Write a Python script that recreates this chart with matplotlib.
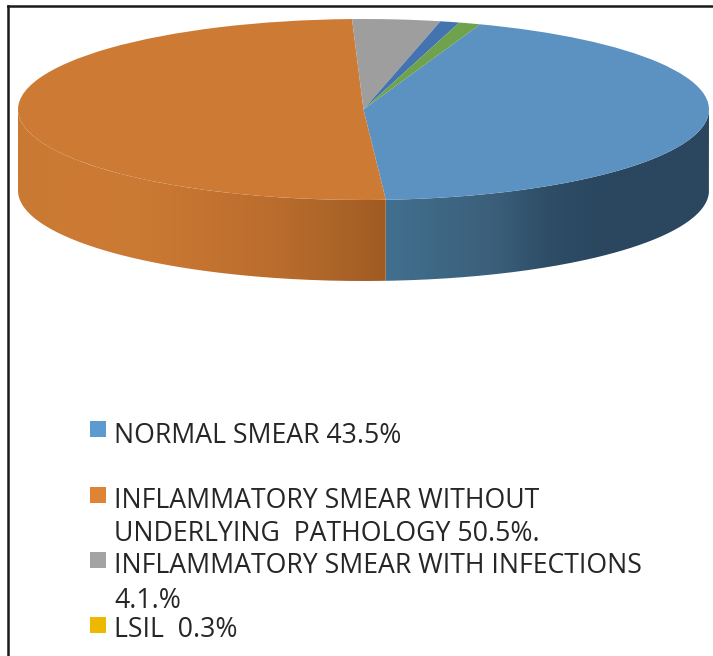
import matplotlib
matplotlib.use("Agg")
import matplotlib.pyplot as plt
import numpy as np
from matplotlib.colors import LinearSegmentedColormap
from matplotlib.lines import Line2D
from matplotlib.patches import PathPatch, Rectangle
from matplotlib.path import Path

# last two slices have no legend entry in the picture (legend is cut off)
# LSIL 0.3% is in the legend but no slice can be seen for it
valeurs = [43.5, 50.5, 4.1, 0.9, 1.0]
couleurs = ["#5B92C1", "#CD7B34", "#9E9E9E", "#4474B0", "#6FA24C"]
degrade_bleu = ["#41708F", "#3E6784", "#3B5F7B", "#2E4D66", "#2A475F", "#2A475F", "#2A475F"]
degrade_orange = ["#C97933", "#CD7B34", "#CB7A33", "#C47430", "#BC6E2E", "#AF6629", "#A05B23"]

legende_textes = [
    "NORMAL SMEAR 43.5%",
    "INFLAMMATORY SMEAR WITHOUT",
    "UNDERLYING  PATHOLOGY 50.5%.",
    "INFLAMMATORY SMEAR WITH INFECTIONS",
    "4.1.%",
    "LSIL  0.3%",
]
legende_y = [436, 501, 534, 566, 601, 630]
carres_y = [429, 495, 560, 625]
carres_couleurs = ["#5B9BD0", "#DF8434", "#A3A3A3", "#EDB800"]

W, H = 713, 656
cx, cy, rx, ry = 363.5, 109.5, 345.5, 90.5
profondeur = 81 / ry
debut = 70.3

fig = plt.figure(figsize=(W / 100, H / 100), dpi=100)
ax = fig.add_axes([0, 0, 1, 1])
ax.pie(valeurs, colors=couleurs, startangle=debut, counterclock=False, radius=1,
       wedgeprops={"linewidth": 0})
ax.set_aspect("auto")
xlim = (-cx / rx, (W - cx) / rx)
ylim = ((cy - H) / ry, cy / ry)


def mur(a0, a1, stops):
    # side wall of the disc between two angles, a gradient clipped to its outline
    angles = np.radians(np.linspace(a0, a1, 120))
    xs, ys = np.cos(angles), np.sin(angles)
    contour = np.column_stack([np.r_[xs, xs[::-1]], np.r_[ys, ys[::-1] - profondeur]])
    cmap = LinearSegmentedColormap.from_list("mur", stops)
    gradient = np.linspace(0, 1, 256).reshape(1, -1)
    im = ax.imshow(gradient, cmap=cmap, extent=[xs[0], xs[-1], -1 - profondeur, 0.2], aspect="auto",
                   zorder=0.5, interpolation="bilinear")
    im.set_clip_path(PathPatch(Path(contour), transform=ax.transData))


limite = debut - valeurs[0] * 3.6
mur(-180.0, limite, degrade_orange)
mur(limite, 0.0, degrade_bleu)
ax.set_xlim(xlim)
ax.set_ylim(ylim)
ax.axis("off")

# frame of the screenshot
for xs, ys in [([8, 8], [6, H]), ([8, W], [6, 6])]:
    fig.add_artist(Line2D([x / W for x in xs], [1 - y / H for y in ys], color="#1A1A1A", lw=1.8))

for y, c in zip(carres_y, carres_couleurs):
    fig.add_artist(Rectangle((90 / W, 1 - (y + 8) / H), 16 / W, 16 / H, transform=fig.transFigure,
                             facecolor=c, edgecolor="none"))
for y, t in zip(legende_y, legende_textes):
    fig.text(114 / W, 1 - y / H, t, fontsize=19.2, family="Open Sans", color="#262626", va="center", ha="left")

fig.savefig("out.png", dpi=100)
